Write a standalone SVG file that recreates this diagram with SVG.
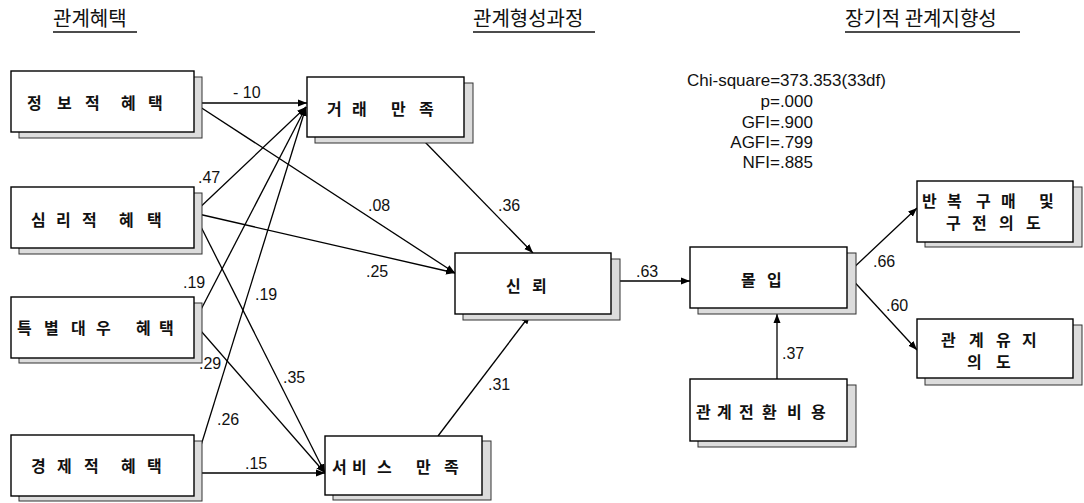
<svg xmlns="http://www.w3.org/2000/svg" width="1084" height="503" viewBox="0 0 1084 503">
<style>
.bg{fill:#fff}
.sh{fill:#dcdcdc;stroke:#333;stroke-width:1}
.bx{fill:#fff;stroke:#000;stroke-width:1.4}
.kt{font-family:"Noto Sans CJK KR","Noto Sans CJK SC",sans-serif;font-size:16px;font-weight:bold;fill:#111}
.hd{font-family:"Noto Sans CJK KR","Noto Sans CJK SC",sans-serif;font-size:20px;fill:#111}
.ul{stroke:#111;stroke-width:1.3}
.lb{font-family:"Liberation Sans",Arial,sans-serif;font-size:16px;fill:#111}
.st{font-family:"Liberation Sans",Arial,sans-serif;font-size:17px;fill:#111}
.cn{stroke:#000;stroke-width:1.3;fill:none;marker-end:url(#ah)}
</style>
<defs>
<marker id="ah" markerUnits="userSpaceOnUse" markerWidth="10" markerHeight="8" refX="9" refY="4" orient="auto">
<path d="M0,0.5 L9,4 L0,7.5 z" fill="#000"/>
</marker>
</defs>
<rect class="bg" x="0" y="0" width="1084" height="503"/>

<g id="headers">
<text class="hd" x="53" y="26">관계혜택</text>
<line class="ul" x1="53" y1="32" x2="137" y2="32"/>
<text class="hd" x="473" y="26">관계형성과정</text>
<line class="ul" x1="473" y1="32" x2="595" y2="32"/>
<text class="hd" x="845" y="26">장기적 관계지향성</text>
<line class="ul" x1="845" y1="32" x2="1020" y2="32"/>
</g>

<g id="fit-stats">
<text class="st" x="687" y="86">Chi-square=373.353(33df)</text>
<text class="st" x="813" y="107" text-anchor="end">p=.000</text>
<text class="st" x="813" y="128" text-anchor="end">GFI=.900</text>
<text class="st" x="813" y="148" text-anchor="end">AGFI=.799</text>
<text class="st" x="813" y="168" text-anchor="end">NFI=.885</text>
</g>

<g id="connectors">
<line class="cn" x1="194" y1="103" x2="307" y2="103"/>
<line class="cn" x1="194" y1="103" x2="455" y2="273"/>
<line class="cn" x1="194" y1="213" x2="306" y2="107"/>
<line class="cn" x1="194" y1="213" x2="455" y2="273"/>
<line class="cn" x1="194" y1="213" x2="325" y2="473"/>
<line class="cn" x1="194" y1="323" x2="306" y2="107"/>
<line class="cn" x1="194" y1="323" x2="325" y2="473"/>
<line class="cn" x1="194" y1="468" x2="306" y2="107"/>
<line class="cn" x1="194" y1="473" x2="325" y2="473"/>
<line class="cn" x1="425" y1="142" x2="533" y2="253"/>
<line class="cn" x1="438" y1="436" x2="530" y2="315"/>
<line class="cn" x1="620" y1="281" x2="690" y2="281"/>
<line class="cn" x1="848" y1="273" x2="917" y2="208"/>
<line class="cn" x1="848" y1="275" x2="917" y2="350"/>
<line class="cn" x1="777" y1="379" x2="777" y2="314"/>
</g>

<g id="labels">
<text class="lb" x="233" y="98">- 10</text>
<text class="lb" x="198" y="183">.47</text>
<text class="lb" x="183" y="288">.19</text>
<text class="lb" x="255" y="300">.19</text>
<text class="lb" x="199" y="369">.29</text>
<text class="lb" x="283" y="383">.35</text>
<text class="lb" x="217" y="425">.26</text>
<text class="lb" x="245" y="469">.15</text>
<text class="lb" x="368" y="211">.08</text>
<text class="lb" x="498" y="211">.36</text>
<text class="lb" x="366" y="277">.25</text>
<text class="lb" x="488" y="390">.31</text>
<text class="lb" x="636" y="277">.63</text>
<text class="lb" x="873" y="267">.66</text>
<text class="lb" x="886" y="311">.60</text>
<text class="lb" x="782" y="359">.37</text>
</g>

<g id="n-info">
<rect class="sh" x="19" y="77" width="183" height="61"/>
<rect class="bx" x="11" y="71" width="183" height="61"/>
<text class="kt" x="27 57 85 110 121 148" y="109">정보적 혜택</text>
</g>
<g id="n-psych">
<rect class="sh" x="19" y="193" width="183" height="61"/>
<rect class="bx" x="11" y="187" width="183" height="61"/>
<text class="kt" x="31 56 82 110 119 147" y="226">심리적 혜택</text>
</g>
<g id="n-special">
<rect class="sh" x="19" y="303" width="183" height="60"/>
<rect class="bx" x="11" y="297" width="183" height="61"/>
<text class="kt" x="17 44 71 96 120 136 159" y="333.5">특별대우 혜택</text>
</g>
<g id="n-econ">
<rect class="sh" x="19" y="441" width="183" height="60"/>
<rect class="bx" x="11" y="435" width="183" height="61"/>
<text class="kt" x="31 57 84 110 121 147" y="471.5">경제적 혜택</text>
</g>
<g id="n-trans">
<rect class="sh" x="315" y="83" width="158" height="60"/>
<rect class="bx" x="307" y="77" width="157" height="60"/>
<text class="kt" x="327 352 380 391 419" y="115">거래 만족</text>
</g>
<g id="n-service">
<rect class="sh" x="333" y="441" width="158" height="59"/>
<rect class="bx" x="325" y="436" width="157" height="59"/>
<text class="kt" x="332 352 377 405 416 444" y="473">서비스 만족</text>
</g>
<g id="n-trust">
<rect class="sh" x="463" y="259" width="157" height="61"/>
<rect class="bx" x="455" y="253" width="156" height="61"/>
<text class="kt" x="506 532" y="292">신뢰</text>
</g>
<g id="n-commit">
<rect class="sh" x="698" y="253" width="158" height="61"/>
<rect class="bx" x="690" y="247" width="157" height="61"/>
<text class="kt" x="741 767" y="286">몰입</text>
</g>
<g id="n-switch">
<rect class="sh" x="698" y="385" width="158" height="62"/>
<rect class="bx" x="690" y="379" width="157" height="62"/>
<text class="kt" x="696 717 739 762 787 811" y="418">관계전환비용</text>
</g>
<g id="n-repurchase">
<rect class="sh" x="925" y="187" width="157" height="60"/>
<rect class="bx" x="917" y="181" width="156" height="61"/>
<text class="kt" x="922 947 976 1001 1025 1039" y="207">반복구매 및</text>
<text class="kt" x="946 972 999 1026" y="229">구전의도</text>
</g>
<g id="n-maintain">
<rect class="sh" x="925" y="325" width="157" height="60"/>
<rect class="bx" x="917" y="319" width="156" height="59"/>
<text class="kt" x="941 969 996 1022" y="346">관계유지</text>
<text class="kt" x="967 996" y="368">의도</text>
</g>
</svg>
